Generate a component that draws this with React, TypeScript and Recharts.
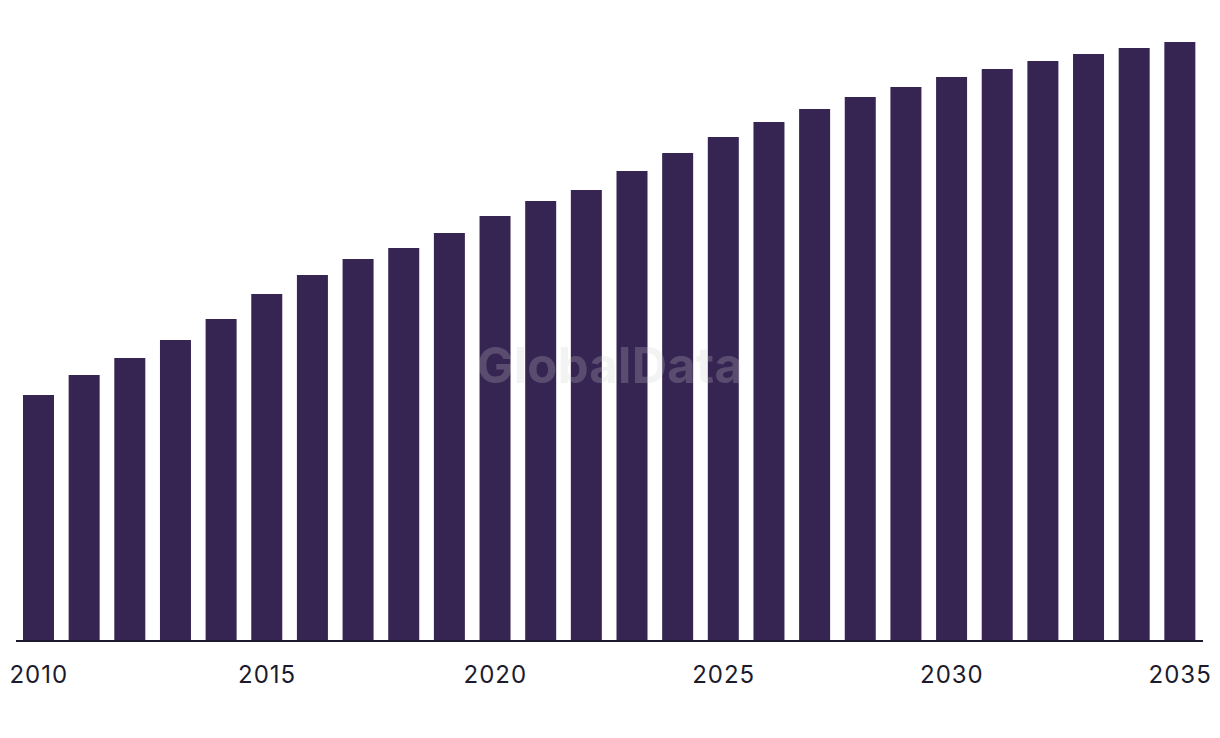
import { BarChart, Bar, XAxis, YAxis } from "recharts";

// years and bar heights (no value axis shown, so units are relative)
const years = [
  "2010", "2011", "2012", "2013", "2014", "2015", "2016", "2017", "2018",
  "2019", "2020", "2021", "2022", "2023", "2024", "2025", "2026", "2027",
  "2028", "2029", "2030", "2031", "2032", "2033", "2034", "2035",
];
const values = [
  246, 266, 283, 301, 322, 347, 366, 382, 393, 408, 425, 440, 451, 470,
  488, 504, 519, 532, 544, 554, 564, 572, 580, 587, 593, 599,
];
const yMax = 599;

const data = years.map((year, i) => ({ year, value: values[i] }));

const barColor = "#362452";
const inkColor = "#1c1b2e";

export default function App() {
  return (
    <div style={{ position: "absolute", left: 0, top: 0, width: 1220, height: 738 }}>
      <BarChart
        width={1220}
        height={738}
        data={data}
        margin={{ top: 42, right: 17, left: 16, bottom: 37 }}
      >
        <XAxis
          dataKey="year"
          interval={4}
          height={60}
          tickLine={false}
          tickSize={0}
          tickMargin={25}
          axisLine={{ stroke: inkColor, strokeWidth: 2 }}
          tick={{ fill: inkColor, fontSize: 24, fontFamily: "Inter, sans-serif", letterSpacing: 1 }}
        />
        <YAxis hide domain={[0, yMax]} />
        <Bar dataKey="value" fill={barColor} barSize={31} isAnimationActive={false} />
      </BarChart>
      <div
        style={{
          position: "absolute",
          left: 0,
          width: 1220,
          top: 336,
          textAlign: "center",
          fontFamily: "Inter, sans-serif",
          fontWeight: 700,
          fontSize: 49,
          color: "rgba(204,204,204,0.24)",
          pointerEvents: "none",
          letterSpacing: 0.3,
        }}
      >
        GlobalData
      </div>
    </div>
  );
}
